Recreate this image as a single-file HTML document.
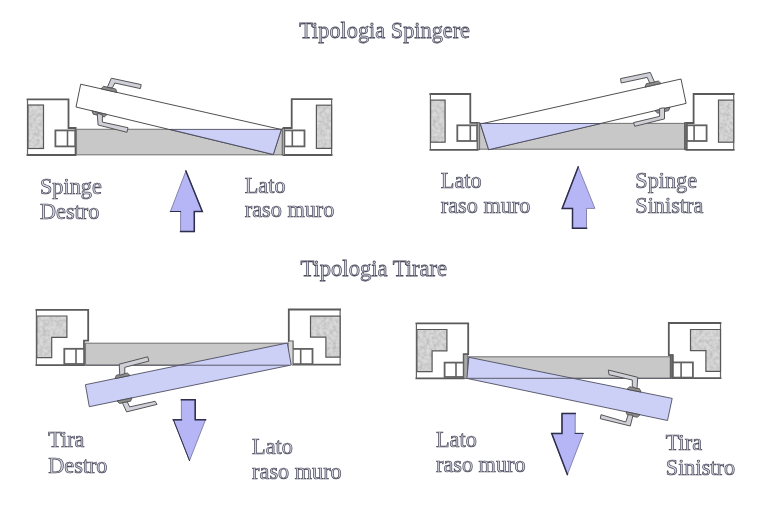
<!DOCTYPE html>
<html><head><meta charset="utf-8">
<style>
html,body{margin:0;padding:0;background:#fff;}
body{width:761px;height:525px;overflow:hidden;}
svg{display:block;will-change:transform;}
.t{font-family:"Liberation Serif",serif;font-size:22.25px;fill:#d6d6e4;stroke:#4a4a5c;stroke-width:0.72px;}
.wf{fill:#fff;stroke:none;}
.w{fill:none;stroke:#5a5a5a;stroke-width:1.8;stroke-linejoin:miter;stroke-linecap:square;}
.wo{stroke:#646464;stroke-width:1.2;}
.h{fill:none;stroke:#585858;stroke-width:1.2;}
.hf{fill:#c8c8c8;stroke:none;filter:url(#tex);}
.bx{fill:#fff;stroke:#626262;stroke-width:1.8;}
.cd{fill:#c8c8c8;stroke:#7a7a7a;stroke-width:1.1;}
.od{fill:#fff;stroke:#3c3c3c;stroke-width:0.9;}
.bl{fill:#cdd0f6;stroke:#44445a;stroke-width:0.85;}
.hd{fill:#d0d0d8;stroke:#555;stroke-width:1;stroke-linejoin:miter;}
.bs{fill:#8e8e8e;stroke:#444;stroke-width:0.8;stroke-linejoin:round;}
.ar{fill:#b6b6f6;stroke:#7c7ca4;stroke-width:0.9;}
.as{fill:none;stroke:#2e2e4c;stroke-width:1.5;stroke-linejoin:miter;stroke-linecap:square;}
.fr{fill:#a8a8a8;stroke:#5a5a5a;stroke-width:0.8;}
</style></head>
<body>
<svg width="761" height="525" viewBox="0 0 761 525">
<defs>
<filter id="tex" x="-10%" y="-10%" width="120%" height="120%">
<feTurbulence type="fractalNoise" baseFrequency="0.3" numOctaves="2" seed="3" result="n"/>
<feColorMatrix in="n" type="matrix" values="1.2 0 0 0 0.15  1.2 0 0 0 0.15  1.2 0 0 0 0.15  0 0 0 0 0.3" result="g"/>
<feComposite in="g" in2="SourceGraphic" operator="in" result="gi"/>
<feBlend in="gi" in2="SourceGraphic" mode="normal"/>
</filter>
</defs>
<!-- Titles -->
<text class="t" x="299.3" y="37.7" style="font-size:22.3px" transform="translate(0,37.7) scale(1,1.05) translate(0,-37.7)">Tipologia Spingere</text>
<text class="t" x="300.5" y="275.7" style="font-size:22.6px" transform="translate(0,275.7) scale(1,1.05) translate(0,-275.7)">Tipologia Tirare</text>

<!-- ================= PANEL 1 ================= -->
<g id="p1">
  <!-- left wall -->
  <path class="wf" d="M27.5,99.3 H68.5 V128 H75.6 V155 H27.5 Z"/><path class="w" d="M27.5,99.3 H68.5 V128 H75.6 V155 H27.5"/><line class="wo" x1="27.5" y1="99.3" x2="27.5" y2="155"/>
  <rect class="hf" x="28" y="105" width="15.5" height="43.5"/><rect class="h" x="28" y="105" width="15.5" height="43.5"/>
  <rect class="bx" x="55.4" y="130.4" width="19.8" height="16"/>
  <line x1="67.5" y1="130.4" x2="67.5" y2="146.4" stroke="#626262" stroke-width="1.6"/>
  <!-- right wall -->
  <path class="wf" d="M331.6,99.1 H291.7 V128 H283.6 V155 H331.6 Z"/><path class="w" d="M331.6,99.1 H291.7 V128 H283.6 V155 H331.6"/><line class="wo" x1="331.6" y1="99.1" x2="331.6" y2="155"/>
  <rect class="hf" x="316.4" y="105.2" width="15.2" height="43.2"/><rect class="h" x="316.4" y="105.2" width="15.2" height="43.2"/>
  <rect class="bx" x="284.4" y="130.4" width="20.1" height="16"/>
  <line x1="292.3" y1="130.4" x2="292.3" y2="146.4" stroke="#626262" stroke-width="1.6"/>
  <!-- closed door -->
  <rect class="cd" x="76.5" y="129.3" width="206" height="25.5"/>
  
  <rect class="fr" x="282.2" y="128.5" width="2.4" height="26.5"/>
  <!-- open door -->
  <polygon class="od" points="80.7,84.2 281.3,129.5 273.3,154.5 76,107"/>
  <polygon class="bl" points="170,129.4 281.3,129.4 273.3,154.5"/>
  <!-- handles -->
  <polygon class="bs" points="101.0,88.8 117.0,92.4 115.7,89.0 103.6,86.3"/>
  <polygon class="hd" points="107.3,87.4 111.3,78.2 141.2,84.6 140.4,88.6 114.8,83 112.4,87.8"/>
  <polygon class="bs" points="92.0,110.9 107.0,114.5 104.4,116.9 93.2,114.2"/>
  <polygon class="hd" points="97.2,113.2 102.4,114.9 102.4,122.1 128,127.7 127,132.3 98.1,125"/>
  <!-- text -->
  <text class="t" x="40" y="194.3" transform="translate(0,194.3) scale(1,1.03) translate(0,-194.3)">Spinge</text>
  <text class="t" x="40" y="219.2" transform="translate(0,219.2) scale(1,1.03) translate(0,-219.2)">Destro</text>
  <text class="t" x="244.8" y="193.5" transform="translate(0,193.5) scale(1,1.03) translate(0,-193.5)">Lato</text>
  <text class="t" x="244.8" y="217.5" transform="translate(0,217.5) scale(1,1.03) translate(0,-217.5)">raso muro</text>
  <!-- arrow -->
  <polygon class="ar" points="185.9,171 202.3,211.5 194.3,211.5 194.3,231.6 180.6,231.6 180.6,211.5 170.4,211.5"/>
  <polyline class="as" points="185.9,171 202.3,211.5 194.3,211.5 194.3,231.6 180.6,231.6"/>
  <polyline class="as" style="stroke-width:1" points="170.4,211.5 180.6,211.5"/>
</g>

<!-- ================= PANEL 2 ================= -->
<g id="p2">
  <path class="wf" d="M430.4,94 H470.3 V122.8 H477.6 V149.8 H430.4 Z"/><path class="w" d="M430.4,94 H470.3 V122.8 H477.6 V149.8 H430.4"/><line class="wo" x1="430.4" y1="94" x2="430.4" y2="149.8"/>
  <rect class="hf" x="430.6" y="100.1" width="14.5" height="42.1"/><rect class="h" x="430.6" y="100.1" width="14.5" height="42.1"/>
  <rect class="bx" x="457.3" y="125.3" width="19.8" height="15.7"/>
  <line x1="470.3" y1="125.3" x2="470.3" y2="141" stroke="#626262" stroke-width="1.6"/>
  <path class="wf" d="M733.7,94 H693.6 V123 H686.5 V149.8 H733.7 Z"/><path class="w" d="M733.7,94 H693.6 V123 H686.5 V149.8 H733.7"/><line class="wo" x1="733.7" y1="94" x2="733.7" y2="149.8"/>
  <rect class="hf" x="718.5" y="100.1" width="15.2" height="42.1"/><rect class="h" x="718.5" y="100.1" width="15.2" height="42.1"/>
  <rect class="bx" x="686.8" y="125.3" width="19.8" height="15.7"/>
  <line x1="694.1" y1="125.3" x2="694.1" y2="141" stroke="#626262" stroke-width="1.6"/>
  <rect class="cd" x="478.9" y="123.4" width="206" height="25.8"/>
  <rect class="fr" x="477.3" y="122.7" width="2.4" height="27"/>
  <rect class="fr" style="fill:#6a6a6a" x="684.6" y="122.7" width="2.4" height="27"/>
  <polygon class="od" points="480.3,124.1 681,79 686.1,103.4 488.7,149.7"/>
  <polygon class="bl" points="480.3,123.5 601,123.5 488.7,149.7"/>
  <polygon class="bs" points="645.0,87.1 661.0,83.5 658.4,81.0 646.3,83.7"/>
  <polygon class="hd" points="620.5,78.6 650.3,72.4 654.6,82.3 649.7,83 647.2,77.4 621.2,83"/>
  <polygon class="bs" points="655.0,110.7 670.0,107.2 668.7,110.6 657.6,113.2"/>
  <polygon class="hd" points="659.6,108.4 664.5,107.8 664.5,118.9 634.8,126.3 633.5,122.6 659.6,116.4"/>
  <text class="t" x="440.8" y="188.2" transform="translate(0,188.2) scale(1,1.03) translate(0,-188.2)">Lato</text>
  <text class="t" x="440.8" y="213.2" transform="translate(0,213.2) scale(1,1.03) translate(0,-213.2)">raso muro</text>
  <text class="t" x="635.3" y="187.8" transform="translate(0,187.8) scale(1,1.03) translate(0,-187.8)">Spinge</text>
  <text class="t" x="635.3" y="212.8" transform="translate(0,212.8) scale(1,1.03) translate(0,-212.8)">Sinistra</text>
  <polygon class="ar" points="578.2,166.9 594.9,208.4 586.5,208.4 586.5,228.2 572.5,228.2 572.5,208.4 562.2,208.4"/>
  <polyline class="as" points="578.2,166.9 562.2,208.4 572.5,208.4 572.5,228.2 586.5,228.2"/>
</g>

<!-- ================= PANEL 3 ================= -->
<g id="p3">
  <path class="wf" d="M36.4,309.9 H88.2 V340.6 H84 V365.2 H36.4 Z"/><path class="w" d="M36.4,309.9 H88.2 V340.6 H84 V365.2 H36.4"/><line class="wo" x1="36.4" y1="309.9" x2="36.4" y2="365.2"/>
  <path class="hf" d="M36.8,316 H66.9 V337.3 H51.7 V357.6 H36.8 Z"/><path class="h" d="M36.8,316 H66.9 V337.3 H51.7 V357.6 H36.8 Z"/>
  <rect class="bx" x="64.3" y="348.8" width="19.8" height="15.2"/>
  <line x1="76" y1="348.8" x2="76" y2="364" stroke="#626262" stroke-width="1.6"/>
  <path class="wf" d="M340.1,309.5 H288.8 V341.4 H292.8 V364.7 H340.1 Z"/><path class="w" d="M340.1,309.5 H288.8 V341.4 H292.8 V364.7 H340.1"/><line class="wo" x1="340.1" y1="309.5" x2="340.1" y2="364.7"/>
  <path class="hf" d="M310.5,316.2 H340.1 V357.2 H325.9 V337.1 H310.5 Z"/><path class="h" d="M310.5,316.2 H340.1 V357.2 H325.9 V337.1 H310.5 Z"/>
  <rect class="bx" x="292.8" y="348.9" width="19.7" height="15.2"/>
  <line x1="300.7" y1="348.9" x2="300.7" y2="364.1" stroke="#626262" stroke-width="1.6"/>
  <rect class="cd" x="85.5" y="343.2" width="203.5" height="22"/>
  
  <rect x="289" y="341.4" width="3.5" height="23.6" fill="#d8d8d8"/>
  <polygon class="bl" points="85.4,384.7 287.3,343 291.2,365 89.3,406.7"/>
  <line x1="85.5" y1="365.2" x2="289" y2="365.2" stroke="#5a5a6a" stroke-width="1"/>
  <polygon class="bs" points="115.0,378.6 130.0,375.5 127.4,373.0 116.4,375.2"/>
  <polygon class="hd" points="119.2,364.2 147.7,356.8 148.9,361.1 124.8,367.3 124.8,373.5 119.8,375.4"/>
  <polygon class="bs" points="117.0,401.0 132.0,397.9 130.6,401.2 119.6,403.5"/>
  <polygon class="hd" points="122.3,402.6 127.3,402 129.7,406.9 155.1,401.3 157,404.4 126.6,411.9"/>
  <text class="t" x="48.2" y="446.7" transform="translate(0,446.7) scale(1,1.03) translate(0,-446.7)">Tira</text>
  <text class="t" x="48.2" y="472.6" transform="translate(0,472.6) scale(1,1.03) translate(0,-472.6)">Destro</text>
  <text class="t" x="252.1" y="453.6" transform="translate(0,453.6) scale(1,1.03) translate(0,-453.6)">Lato</text>
  <text class="t" x="252.1" y="478.8" transform="translate(0,478.8) scale(1,1.03) translate(0,-478.8)">raso muro</text>
  <polygon class="ar" points="181.4,399.7 195.2,399.7 195.2,419.8 205.5,419.8 189.5,460.6 173.4,419.8 181.4,419.8"/>
  <polyline class="as" points="181.4,399.7 195.2,399.7 195.2,419.8 205.5,419.8"/>
  <polyline class="as" points="173.4,419.8 181.4,419.8"/>
  <polyline class="as" style="stroke-width:1" points="173.4,419.8 189.5,460.6"/>
</g>

<!-- ================= PANEL 4 ================= -->
<g id="p4">
  <path class="wf" d="M416.4,323.4 H468.2 V354.2 H463.7 V378.3 H416.4 Z"/><path class="w" d="M416.4,323.4 H468.2 V354.2 H463.7 V378.3 H416.4"/><line class="wo" x1="416.4" y1="323.4" x2="416.4" y2="378.3"/>
  <path class="hf" d="M416.9,329.5 H446.9 V350.8 H432.1 V371.7 H416.9 Z"/><path class="h" d="M416.9,329.5 H446.9 V350.8 H432.1 V371.7 H416.9 Z"/>
  <rect class="bx" x="444.6" y="362.6" width="19.1" height="14.4"/>
  <line x1="456" y1="362.6" x2="456" y2="377" stroke="#626262" stroke-width="1.6"/>
  <path class="wf" d="M720.5,323 H668.8 V355.1 H672.8 V378.2 H720.5 Z"/><path class="w" d="M720.5,323 H668.8 V355.1 H672.8 V378.2 H720.5"/><line class="wo" x1="720.5" y1="323" x2="720.5" y2="378.2"/>
  <path class="hf" d="M690.5,329.5 H720.5 V371.3 H705.9 V350.6 H690.5 Z"/><path class="h" d="M690.5,329.5 H720.5 V371.3 H705.9 V350.6 H690.5 Z"/>
  <rect class="bx" x="672.8" y="362.4" width="20.1" height="15.2"/>
  <line x1="681.1" y1="362.4" x2="681.1" y2="377.6" stroke="#626262" stroke-width="1.6"/>
  <rect class="cd" x="467.9" y="356.8" width="202.9" height="21.5"/>
  <rect class="fr" x="463.8" y="354.5" width="4" height="24"/>
  <rect class="fr" style="fill:#6a6a6a" x="670.2" y="354.8" width="2.6" height="23.5"/>
  <polygon class="bl" points="468.9,357.3 672.2,398.4 667.5,420.5 466.9,378.4"/>
  <line x1="467.9" y1="378.3" x2="671" y2="378.3" stroke="#5a5a6a" stroke-width="1"/>
  <polygon class="bs" points="627.0,389.3 641.0,392.1 639.6,388.8 629.6,386.7"/>
  <polygon class="hd" points="608.3,370 637.7,377.3 637,388.7 632.3,386.7 632.3,380 609,374.7"/>
  <polygon class="bs" points="626.0,411.8 640.0,414.7 637.4,417.3 627.3,415.1"/>
  <polygon class="hd" points="628.3,414.7 633,415.3 630.3,426 600.3,418.7 601,414.7 625.7,422"/>
  <text class="t" x="436" y="447.5" transform="translate(0,447.5) scale(1,1.03) translate(0,-447.5)">Lato</text>
  <text class="t" x="436" y="472" transform="translate(0,472) scale(1,1.03) translate(0,-472)">raso muro</text>
  <text class="t" x="665.8" y="449.6" transform="translate(0,449.6) scale(1,1.03) translate(0,-449.6)">Tira</text>
  <text class="t" x="665.8" y="475.4" transform="translate(0,475.4) scale(1,1.03) translate(0,-475.4)">Sinistro</text>
  <polygon class="ar" points="562,413.4 575.2,413.4 575.2,433.4 583.2,433.4 567.4,474.6 551.7,433.4 562,433.4"/>
  <polyline class="as" points="575.2,413.4 562,413.4 562,433.4 551.7,433.4 567.4,474.6"/>
  <polyline class="as" style="stroke-width:1" points="575.2,433.4 583.2,433.4"/>
</g>
</svg>
</body></html>
